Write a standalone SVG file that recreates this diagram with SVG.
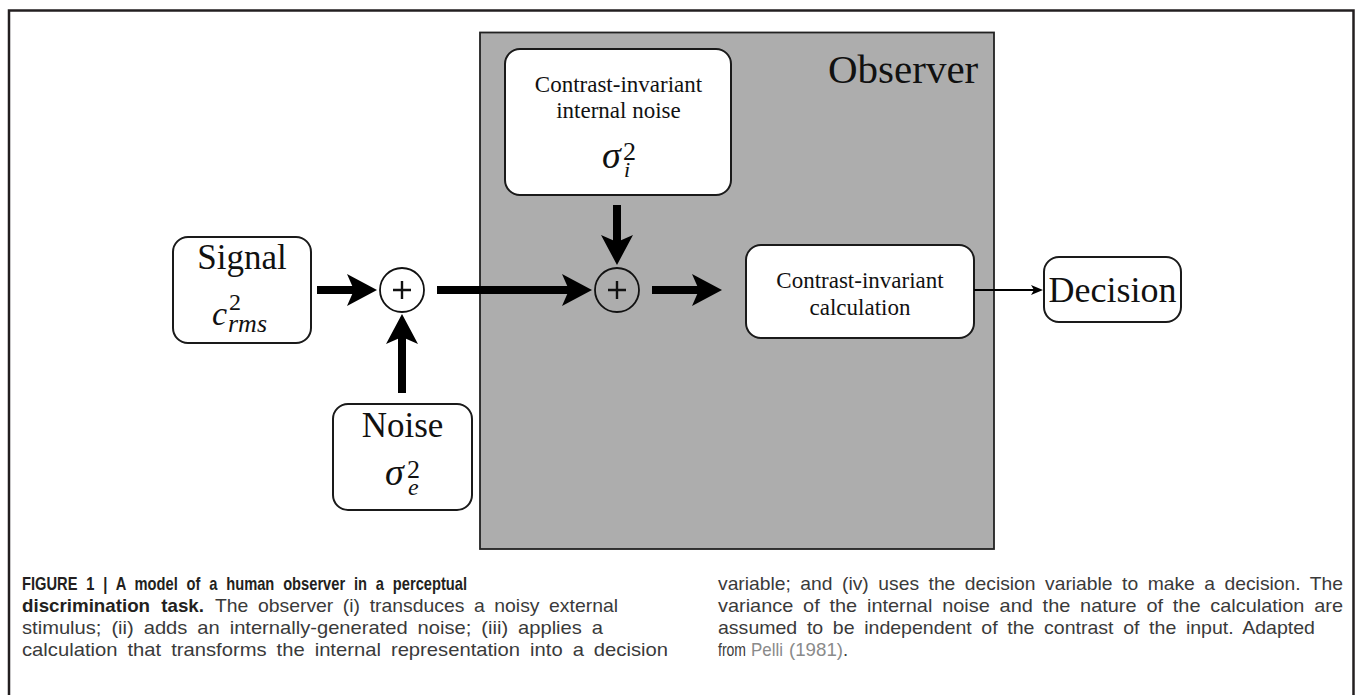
<svg xmlns="http://www.w3.org/2000/svg" width="1355" height="695" viewBox="0 0 1355 695">
<style>
.box{fill:#fff;stroke:#1a1a1a;stroke-width:2}
.lbl{font-family:"Liberation Serif","Times New Roman",serif;fill:#111;text-anchor:middle}
.math{font-family:"Liberation Serif","Times New Roman",serif;fill:#111;font-style:italic}
.up{font-style:normal}
.sum{fill:none;stroke:#111;stroke-width:1.8}
.plus{stroke:#111;stroke-width:2.4}
.thick{stroke:#000;stroke-width:8;fill:none;marker-end:url(#head)}
.thin{stroke:#000;stroke-width:2;fill:none;marker-end:url(#thinhead)}
.cap{font-family:"Liberation Sans",Arial,sans-serif;font-size:18.5px;fill:#3a3a3a;word-spacing:4px}
.capb{font-family:"Liberation Sans",Arial,sans-serif;font-size:18.5px;font-weight:bold;fill:#231f20;word-spacing:6px}
.link{fill:#8a8a8a}
</style>
<defs>
<marker id="head" viewBox="0 0 30 32" refX="7" refY="16" markerWidth="30" markerHeight="32" markerUnits="userSpaceOnUse" orient="auto">
<path d="M0,0 L30,16 L0,32 L7,16 Z" fill="#000"/>
</marker>
<marker id="thinhead" viewBox="0 0 12 10" refX="3" refY="5" markerWidth="12" markerHeight="10" markerUnits="userSpaceOnUse" orient="auto">
<path d="M0,0 L12,5 L0,10 L3,5 Z" fill="#000"/>
</marker>
</defs>
<rect width="1355" height="695" fill="#fff"/>
<path d="M9,695 V10.5 H1353.5 V695" fill="none" stroke="#231f20" stroke-width="2.5"/>

<g id="observer">
<rect x="480" y="32.5" width="514" height="516.5" fill="#adadad" stroke="#222" stroke-width="1.8"/>
<text x="828" y="83" style="font-family:'Liberation Serif','Times New Roman',serif;font-size:41px;fill:#111">Observer</text>
</g>

<g id="internal-noise">
<rect class="box" x="505" y="49" width="226" height="146" rx="15"/>
<text class="lbl" x="618.5" y="92" font-size="23">Contrast-invariant</text>
<text class="lbl" x="618.5" y="118" font-size="23">internal noise</text>
<text class="math" x="602" y="168" font-size="38">σ<tspan class="up" x="623" y="160" font-size="26">2</tspan><tspan x="624" y="177" font-size="22">i</tspan></text>
</g>

<g id="signal">
<rect class="box" x="173" y="237" width="138" height="106" rx="15"/>
<text class="lbl" x="242" y="269" font-size="35">Signal</text>
<text class="math" x="212" y="325" font-size="34">c<tspan class="up" x="229" y="310" font-size="24">2</tspan><tspan x="228" y="332" font-size="26">rms</tspan></text>
</g>

<g id="noise">
<rect class="box" x="333" y="404" width="139" height="106" rx="15"/>
<text class="lbl" x="402.5" y="437" font-size="35">Noise</text>
<text class="math" x="385" y="485" font-size="38">σ<tspan class="up" x="407" y="478" font-size="26">2</tspan><tspan x="408" y="495" font-size="24">e</tspan></text>
</g>

<g id="sum1">
<circle class="sum" cx="402" cy="290" r="22"/>
<path class="plus" d="M393,290 H411 M402,281 V299"/>
</g>

<g id="sum2">
<circle class="sum" cx="617" cy="290" r="22"/>
<path class="plus" d="M608,290 H626 M617,281 V299"/>
</g>

<g id="calculation">
<rect class="box" x="746" y="245" width="228" height="93" rx="15"/>
<text class="lbl" x="860" y="288" font-size="23">Contrast-invariant</text>
<text class="lbl" x="860" y="315" font-size="23">calculation</text>
</g>

<g id="decision">
<rect class="box" x="1044" y="257" width="137" height="65" rx="15"/>
<text class="lbl" x="1112.5" y="302" font-size="36">Decision</text>
</g>

<g id="connectors">
<line class="thick" x1="317" y1="290" x2="354" y2="290"/>
<line class="thick" x1="402" y1="393" x2="402" y2="337"/>
<line class="thick" x1="437" y1="290" x2="569" y2="290"/>
<line class="thick" x1="617" y1="205" x2="617" y2="242"/>
<line class="thick" x1="652" y1="290" x2="699" y2="290"/>
<line class="thin" x1="974" y1="290" x2="1034" y2="290"/>
</g>

<g id="caption">
<text class="capb" x="22" y="590" textLength="445" lengthAdjust="spacingAndGlyphs">FIGURE 1 | A model of a human observer in a perceptual</text>
<text class="capb" x="22" y="612" textLength="182" lengthAdjust="spacingAndGlyphs">discrimination task.</text>
<text class="cap" x="215" y="612" textLength="403" lengthAdjust="spacingAndGlyphs">The observer (i) transduces a noisy external</text>
<text class="cap" x="22" y="634" textLength="581" lengthAdjust="spacingAndGlyphs">stimulus; (ii) adds an internally-generated noise; (iii) applies a</text>
<text class="cap" x="22" y="656" textLength="646" lengthAdjust="spacingAndGlyphs">calculation that transforms the internal representation into a decision</text>
<text class="cap" x="718" y="590" textLength="625" lengthAdjust="spacingAndGlyphs">variable; and (iv) uses the decision variable to make a decision. The</text>
<text class="cap" x="718" y="612" textLength="625" lengthAdjust="spacingAndGlyphs">variance of the internal noise and the nature of the calculation are</text>
<text class="cap" x="718" y="634" textLength="597" lengthAdjust="spacingAndGlyphs">assumed to be independent of the contrast of the input. Adapted</text>
<text class="cap" x="718" y="656" textLength="28" lengthAdjust="spacingAndGlyphs">from</text>
<text class="cap link" x="751" y="656" textLength="32" lengthAdjust="spacingAndGlyphs">Pelli</text>
<text class="cap link" x="789" y="656" textLength="54" lengthAdjust="spacingAndGlyphs">(1981)</text>
<text class="cap" x="843" y="656">.</text>
</g>
</svg>
